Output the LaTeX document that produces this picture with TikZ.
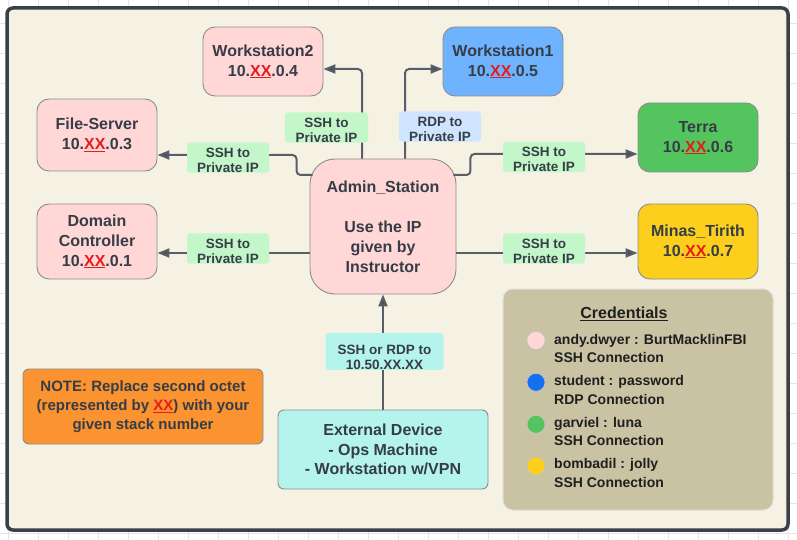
\documentclass[tikz,border=0pt]{standalone}
\usepackage{fontspec}
\setmainfont{Liberation Sans}
\usetikzlibrary{arrows.meta,calc}
\definecolor{bgc}{HTML}{F5F1E3}
\definecolor{framec}{HTML}{3A4048}
\definecolor{gridc}{HTML}{E4E4E4}
\definecolor{pinkc}{HTML}{FFD7D7}
\definecolor{bluec}{HTML}{6FB2FE}
\definecolor{greenc}{HTML}{54C45E}
\definecolor{yellowc}{HTML}{FCCF1C}
\definecolor{lgreen}{HTML}{C3F6C9}
\definecolor{lblue}{HTML}{CFE5FF}
\definecolor{cyanc}{HTML}{B4F4EC}
\definecolor{orangec}{HTML}{FA9330}
\definecolor{tanc}{HTML}{C9C2A3}
\definecolor{bordc}{HTML}{8C8C8C}
\definecolor{txtc}{HTML}{363D47}
\definecolor{linec}{HTML}{575E68}
\definecolor{xxred}{HTML}{E51C1C}
\definecolor{darkblue}{HTML}{1570EF}
\newcommand{\xx}{\textcolor{xxred}{\underline{XX}}}
\begin{document}
\begin{tikzpicture}[x=1pt,y=-1pt,
  box/.style={draw=bordc, line width=0.9, rounded corners=12, align=center,
    font=\fontsize{16}{20}\selectfont\bfseries, text=txtc, inner sep=0,
    minimum width=120, minimum height=69},
  lab/.style={rounded corners=3, align=center, inner sep=0,
    font=\fontsize{13.5}{15}\selectfont\bfseries, text=txtc,
    minimum width=82, minimum height=29},
  conn/.style={draw=linec, line width=2, rounded corners=4,
    -{Triangle[length=12,width=9,fill=linec!85!black]}},
  cred/.style={anchor=west, align=left, inner sep=0,
    font=\fontsize{14}{18.5}\selectfont\bfseries, text=black!88},
  dot/.style={circle, minimum size=18, inner sep=0, draw=bordc!50, line width=0.6}
]
\useasboundingbox (0,0) rectangle (797,540);
\fill[white] (0,0) rectangle (797,540);
\foreach \i in {8,38,...,798} \draw[gridc, line width=0.8] (\i,0) -- (\i,540);
\foreach \j in {23,53,...,540} \draw[gridc, line width=0.8] (0,\j) -- (797,\j);
\draw[draw=framec, line width=3.5, fill=bgc, rounded corners=6] (7,8) rectangle (788,530);

% nodes
\node[box, fill=pinkc] (ws2) at (263,61.5) {Workstation2\\10.\xx.0.4};
\node[box, fill=bluec] (ws1) at (503,61.5) {Workstation1\\10.\xx.0.5};
\node[box, fill=pinkc, minimum height=72] (fs) at (97,135) {File-Server\\10.\xx.0.3};
\node[box, fill=greenc] (terra) at (698,137.5) {Terra\\10.\xx.0.6};
\node[box, fill=pinkc, minimum height=75] (dc) at (97,241.5) {Domain\\Controller\\10.\xx.0.1};
\node[box, fill=yellowc, minimum height=75] (minas) at (698,241.5) {Minas\_Tirith\\10.\xx.0.7};
\node[box, fill=pinkc, rounded corners=25, minimum width=146, minimum height=135] (admin) at (383,226.5)
  {Admin\_Station\\[20pt]Use the IP\\given by\\Instructor};
\node[box, fill=cyanc, rounded corners=6, minimum width=210, minimum height=79,
  font=\fontsize{16}{19.5}\selectfont\bfseries] (ext) at (383,449.5)
  {External Device\\- Ops Machine\\- Workstation w/VPN};
\node[box, fill=orangec, rounded corners=6, minimum width=240, minimum height=75,
  font=\fontsize{15}{19}\selectfont\bfseries] (note) at (143,406.5)
  {NOTE: Replace second octet\\(represented by \xx) with your\\given stack number};
\node[draw=gridc!80!tanc, line width=1, fill=tanc, rounded corners=10, minimum width=270, minimum height=221, inner sep=0] (credbox) at (638,399.5) {};

% connectors
\draw[conn] ($(admin.north)+(-21,0)$) |- ($(ws2.east)+(0,7.5)$);
\draw[conn] ($(admin.north)+(22,0)$) |- ($(ws1.west)+(0,7.5)$);
\draw[conn] ($(admin.west)+(3,-51.5)$) -- ++(-16,0) |- ($(fs.east)+(0,20)$);
\draw[conn] ($(admin.east)+(-3,-51.5)$) -- ++(17,0) |- ($(terra.west)+(0,16.5)$);
\draw[conn] ($(admin.west)+(0,26.5)$) -- ($(dc.east)+(0,11.5)$);
\draw[conn] ($(admin.east)+(0,26.5)$) -- ($(minas.west)+(0,11.5)$);
\draw[conn] (ext.north) -- (admin.south);

% labels
\node[lab, fill=lgreen, minimum width=83] (l1) at (326.5,127.5) {\rule{0pt}{15pt}SSH to\\Private IP};
\node[lab, fill=lblue] (l2) at (440,126.5) {\rule{0pt}{15pt}RDP to\\Private IP};
\node[lab, fill=lgreen] (l3) at (228,157.5) {\rule{0pt}{15pt}SSH to\\Private IP};
\node[lab, fill=lgreen] (l4) at (544,157) {\rule{0pt}{15pt}SSH to\\Private IP};
\node[lab, fill=lgreen] (l5) at (228,248.5) {\rule{0pt}{15pt}SSH to\\Private IP};
\node[lab, fill=lgreen] (l6) at (544,248.5) {\rule{0pt}{15pt}SSH to\\Private IP};
\node[lab, fill=cyanc, minimum width=118, minimum height=35, font=\fontsize{13.5}{15.7}\selectfont\bfseries] (l7) at (384.5,351.5) {\rule{0pt}{21pt}SSH or RDP to\\10.50.XX.XX};

% credentials
\node[inner sep=0, font=\fontsize{16}{20}\selectfont\bfseries, text=black!88] (credt) at (624,314) {\underline{Credentials}};
\node[dot, fill=pinkc] (c1) at (536,340.5) {};
\node[dot, fill=darkblue] (c2) at (536,382.3) {};
\node[dot, fill=greenc] (c3) at (536,424.3) {};
\node[dot, fill=yellowc] (c4) at (536,466) {};
\node[cred] (t1) at (554,348.3) {andy.dwyer : BurtMacklinFBI\\SSH Connection};
\node[cred] (t2) at (554,389.8) {student : password\\RDP Connection};
\node[cred] (t3) at (554,431.6) {garviel : luna\\SSH Connection};
\node[cred] (t4) at (554,473) {bombadil : jolly\\SSH Connection};
\end{tikzpicture}
\end{document}
